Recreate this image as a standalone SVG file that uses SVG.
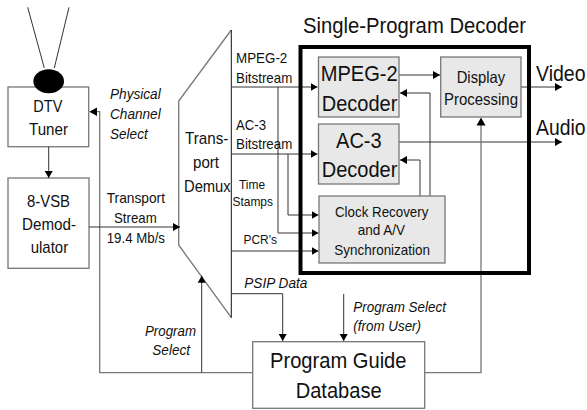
<svg xmlns="http://www.w3.org/2000/svg" width="587" height="410" viewBox="0 0 587 410">
<defs>
<marker id="a" markerUnits="userSpaceOnUse" markerWidth="8" markerHeight="10" refX="7" refY="4.500" orient="auto"><path d="M0 0.500L7 4.500L0 8.500Z" fill="#000"/></marker>
</defs>
<style>
text{font-family:"Liberation Sans",Arial,sans-serif;fill:#111}
.w{fill:#fff;stroke:#777;stroke-width:1.3}
.g{fill:#e8e8e8;stroke:#777;stroke-width:1.3}
.c{fill:none;stroke:#333;stroke-width:1}
.h{fill:none;stroke:#777;stroke-width:1.3}
.i{font-style:italic}
.s13{font-size:13.500px}.s15{font-size:15px}.s16{font-size:16.500px}.s17{font-size:17px}.s22{font-size:22.500px}
</style>
<rect width="587" height="410" fill="#fff"/>
<g id="tuner"><rect class="w" x="8" y="87" width="80.700" height="59.700"/><text class="s17" x="33.300" y="112" textLength="29" lengthAdjust="spacingAndGlyphs">DTV</text><text class="s17" x="29" y="135" textLength="39" lengthAdjust="spacingAndGlyphs">Tuner</text></g>
<g id="antenna"><path class="c" d="M27.700 7.300L44.300 68M69 7.300L54.300 68"/><ellipse cx="48.700" cy="81.300" rx="15.300" ry="12" fill="#000"/></g>
<g id="demod"><rect class="w" x="8" y="178" width="81" height="90.300"/><text class="s17" x="27" y="207" textLength="43" lengthAdjust="spacingAndGlyphs">8-VSB</text><text class="s17" x="22" y="230" textLength="54" lengthAdjust="spacingAndGlyphs">Demod-</text><text class="s17" x="30.700" y="253" textLength="37.500" lengthAdjust="spacingAndGlyphs">ulator</text></g>
<g id="demux"><path class="h" d="M231.300 30L178.700 101V245L231.300 317.700"/><path class="c" d="M231.300 30V317.700" style="stroke:#111"/><text class="s17" x="185" y="144" textLength="43.300" lengthAdjust="spacingAndGlyphs">Trans-</text><text class="s17" x="193" y="168" textLength="26" lengthAdjust="spacingAndGlyphs">port</text><text class="s17" x="184" y="192" textLength="46.700" lengthAdjust="spacingAndGlyphs">Demux</text></g>
<g id="connectors">
<path class="c" d="M48.700 146.700V178" marker-end="url(#a)"/>
<path class="h" d="M252.700 372.700H99.700V111.700H95"/>
<path d="M89.300 111.700L97 107.500V116Z" fill="#000"/>
<path class="c" d="M89 227H180" marker-end="url(#a)"/>
<path class="c" d="M201.700 372.700V275.700" marker-end="url(#a)"/>
<path class="c" d="M231.300 87H317.500" marker-end="url(#a)"/>
<path class="c" d="M231.300 154H317.500" marker-end="url(#a)"/>
<path class="c" d="M278 87V233H318.500" marker-end="url(#a)"/>
<path class="c" d="M288 154V215H318.500" marker-end="url(#a)"/>
<path class="c" d="M231.300 251H318.500" marker-end="url(#a)"/>
<path class="c" d="M231.300 293.700H282.700V341" marker-end="url(#a)"/>
<path class="c" d="M343.700 294V341" marker-end="url(#a)"/>
<path class="c" d="M399 75H440" marker-end="url(#a)"/>
<path class="c" d="M521 87H562" marker-end="url(#a)"/>
<path class="c" d="M399 142H562" marker-end="url(#a)"/>
<path class="c" d="M430 196V93H400" marker-end="url(#a)"/>
<path class="c" d="M420 196V160H400" marker-end="url(#a)"/>
<path class="h" d="M424.700 372.700H481V124"/>
<path d="M481 117.500L476.500 125.500H485.500Z" fill="#000"/>
</g>
<g id="decoder"><rect x="300.500" y="47" width="228.500" height="226" fill="none" stroke="#000" stroke-width="4"/><text class="s22" x="303" y="32.700" textLength="223" lengthAdjust="spacingAndGlyphs">Single-Program Decoder</text></g>
<g id="mpeg"><rect class="g" x="318.500" y="57" width="80.500" height="60"/><text class="s22" x="320.700" y="80.700" textLength="77" lengthAdjust="spacingAndGlyphs">MPEG-2</text><text class="s22" x="321.700" y="110.700" textLength="75.700" lengthAdjust="spacingAndGlyphs">Decoder</text></g>
<g id="ac3"><rect class="g" x="318.500" y="124" width="80.500" height="60"/><text class="s22" x="336" y="147.700" textLength="45.700" lengthAdjust="spacingAndGlyphs">AC-3</text><text class="s22" x="321.700" y="176.700" textLength="75.700" lengthAdjust="spacingAndGlyphs">Decoder</text></g>
<g id="display"><rect class="g" x="440.700" y="57" width="80.300" height="60"/><text class="s16" x="456.700" y="82.700" textLength="48.500" lengthAdjust="spacingAndGlyphs">Display</text><text class="s16" x="444" y="105.300" textLength="74" lengthAdjust="spacingAndGlyphs">Processing</text></g>
<g id="clock"><rect class="g" x="319" y="196" width="126" height="67"/><text class="s15" x="335" y="216.700" textLength="93.300" lengthAdjust="spacingAndGlyphs">Clock Recovery</text><text class="s15" x="357.700" y="235" textLength="47.300" lengthAdjust="spacingAndGlyphs">and A/V</text><text class="s15" x="334.300" y="255" textLength="95.700" lengthAdjust="spacingAndGlyphs">Synchronization</text></g>
<g id="guide"><rect class="w" x="252.700" y="341.700" width="172" height="66.600"/><text class="s22" x="270" y="368.300" textLength="136.500" lengthAdjust="spacingAndGlyphs">Program Guide</text><text class="s22" x="295.700" y="398" textLength="86" lengthAdjust="spacingAndGlyphs">Database</text></g>
<g id="labels">
<text class="s15 i" x="110" y="98.700" textLength="50.700" lengthAdjust="spacingAndGlyphs">Physical</text><text class="s15 i" x="110" y="119.300" textLength="50.700" lengthAdjust="spacingAndGlyphs">Channel</text><text class="s15 i" x="110" y="138.700" textLength="37.700" lengthAdjust="spacingAndGlyphs">Select</text>
<text class="s15" x="106.700" y="202.700" textLength="58.300" lengthAdjust="spacingAndGlyphs">Transport</text><text class="s15" x="114" y="223.300" textLength="42.700" lengthAdjust="spacingAndGlyphs">Stream</text><text class="s15" x="106.700" y="242.700" textLength="58.300" lengthAdjust="spacingAndGlyphs">19.4 Mb/s</text>
<text class="s15" x="236" y="62.500" textLength="51.300" lengthAdjust="spacingAndGlyphs">MPEG-2</text><text class="s15" x="236" y="83" textLength="56.300" lengthAdjust="spacingAndGlyphs">Bitstream</text>
<text class="s15" x="236" y="129.500" textLength="30" lengthAdjust="spacingAndGlyphs">AC-3</text><text class="s15" x="236" y="148.500" textLength="56.300" lengthAdjust="spacingAndGlyphs">Bitstream</text>
<text class="s13" x="239" y="189" textLength="26" lengthAdjust="spacingAndGlyphs">Time</text><text class="s13" x="232.500" y="206" textLength="40.500" lengthAdjust="spacingAndGlyphs">Stamps</text>
<text class="s13" x="243.500" y="244" textLength="33.500" lengthAdjust="spacingAndGlyphs">PCR's</text>
<text class="s15 i" x="244.300" y="287.700" textLength="63" lengthAdjust="spacingAndGlyphs">PSIP Data</text>
<text class="s15 i" x="145" y="336.300" textLength="51" lengthAdjust="spacingAndGlyphs">Program</text><text class="s15 i" x="152.300" y="355.300" textLength="37.700" lengthAdjust="spacingAndGlyphs">Select</text>
<text class="s15 i" x="353.300" y="311.700" textLength="92.700" lengthAdjust="spacingAndGlyphs">Program Select</text><text class="s15 i" x="353.300" y="331" textLength="67.700" lengthAdjust="spacingAndGlyphs">(from User)</text>
<text class="s22" x="536" y="81" textLength="49.500" lengthAdjust="spacingAndGlyphs">Video</text><text class="s22" x="536" y="135" textLength="49.500" lengthAdjust="spacingAndGlyphs">Audio</text>
</g>
</svg>
